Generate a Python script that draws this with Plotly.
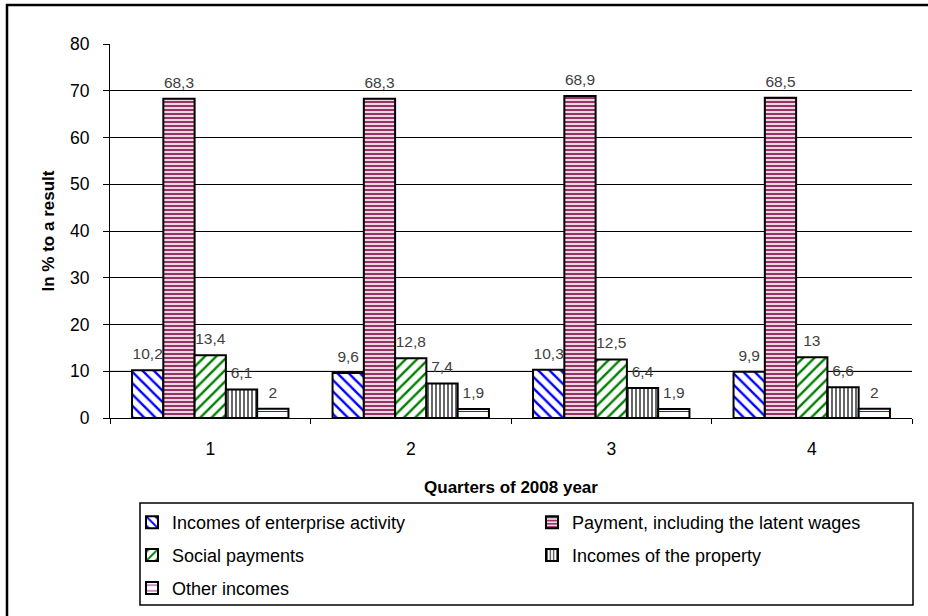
import plotly.graph_objects as go

categories = ["1", "2", "3", "4"]
enterprise = [10.2, 9.6, 10.3, 9.9]
payment = [68.3, 68.3, 68.9, 68.5]
social = [13.4, 12.8, 12.5, 13]
prop = [6.1, 7.4, 6.4, 6.6]
other = [2, 1.9, 1.9, 2]

names = ["Incomes of enterprise activity", "Payment, including the latent wages",
         "Social payments", "Incomes of the property", "Other incomes"]
series = [enterprise, payment, social, prop, other]
fg = ["#0000FF", "#993366", "#008000", "#000000", "#800080"]
shapes_p = ["\\", "-", "/", "|", "-"]
psize = [8, 4, 8, 4, 7]
psol = [0.3, 0.6, 0.3, 0.3, 0.15]
legends = ["legend", "legend2", "legend", "legend2", "legend"]

FONT = "Liberation Sans, Arial, sans-serif"

def fmt(v):
    return f"{v:g}".replace(".", ",")

fig = go.Figure()
for i, (nm, vals) in enumerate(zip(names, series)):
    fig.add_trace(go.Bar(
        x=categories, y=vals, name=nm, legend=legends[i], legendgroup=f"g{i}",
        marker=dict(color="white", line=dict(color="black", width=2),
                    pattern=dict(shape=shapes_p[i], fgcolor=fg[i], bgcolor="white",
                                 size=psize[i], solidity=psol[i], fillmode="replace")),
        offsetgroup=str(i), hoverinfo="skip",
    ))
for i, vals in enumerate(series):
    fig.add_trace(go.Scatter(
        x=categories, y=vals, mode="markers+text", text=[fmt(v) for v in vals],
        textposition="top center", textfont=dict(family=FONT, size=15.5, color="#404040"),
        marker=dict(size=10, opacity=0), offsetgroup=str(i), showlegend=False,
        hoverinfo="skip", cliponaxis=False,
    ))

# paper coordinate helpers (plot area: x 110..912, y 44..418)
def px(x):
    return (x - 110) / 802.0

def py(y):
    return (418 - y) / 374.0

fig.update_layout(
    width=928, height=616,
    margin=dict(l=110, r=16, t=44, b=198, autoexpand=False),
    paper_bgcolor="white", plot_bgcolor="white",
    barmode="group", bargap=0.22, bargroupgap=0,
    scattermode="group", scattergap=0.22,
    font=dict(family=FONT, color="black"),
    showlegend=True,
    legend=dict(x=px(132), y=py(504), xanchor="left", yanchor="top",
                orientation="v", tracegroupgap=6.5, font=dict(size=18, family=FONT),
                bgcolor="rgba(0,0,0,0)", itemwidth=30),
    legend2=dict(x=px(532), y=py(504), xanchor="left", yanchor="top",
                 orientation="v", tracegroupgap=6.5, font=dict(size=18, family=FONT),
                 bgcolor="rgba(0,0,0,0)", itemwidth=30),
    xaxis=dict(type="category", tickson="boundaries", ticks="outside", ticklen=5,
               tickcolor="black", showline=True, linecolor="black", linewidth=1,
               showgrid=False, tickfont=dict(size=17.5, family=FONT), ticklabelstandoff=15,
               title=dict(text="<b>Quarters of 2008 year</b>", font=dict(size=17, family=FONT),
                          standoff=23)),
    yaxis=dict(range=[0, 80], dtick=10, ticks="outside", ticklen=6, tickcolor="black",
               showline=True, linecolor="black", linewidth=1, showgrid=True,
               gridcolor="black", gridwidth=1, zeroline=False,
               tickfont=dict(size=17.5, family=FONT), ticklabelstandoff=10,
               title=dict(text="<b>In % to a result</b>", font=dict(size=17, family=FONT),
                          standoff=11)),
    shapes=[
        dict(type="line", xref="paper", yref="y", x0=0, x1=1, y0=10, y1=10,
             line=dict(color="#808080", width=1), layer="below"),
        dict(type="rect", xref="paper", yref="paper", x0=px(140), x1=px(913),
             y0=py(605), y1=py(503), line=dict(color="black", width=1.5)),
        dict(type="rect", xref="paper", yref="paper", x0=px(7), x1=px(960),
             y0=py(650), y1=py(5), line=dict(color="black", width=2.5)),
    ],
)

fig.write_html("out.html", config={"displayModeBar": False},
               post_script="document.body.style.margin='0';document.body.style.overflow='hidden';")
